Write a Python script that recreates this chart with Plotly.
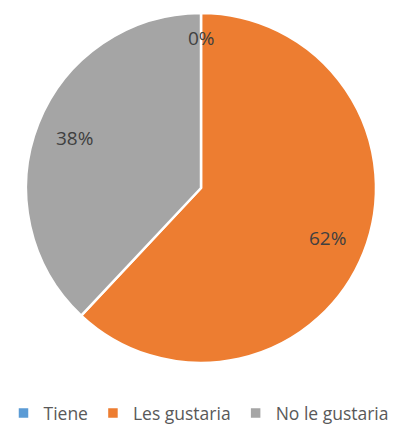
import math
import plotly.graph_objects as go

labels = ["Tiene", "Les gustaria", "No le gustaria"]
values = [0, 62, 38]
colors = ["#5B9BD5", "#ED7D31", "#A5A5A5"]

W, H = 398, 428
cx, cy, r = 201, 188, 175

fig = go.Figure(go.Pie(
    labels=labels, values=values, sort=False, direction="clockwise", rotation=0,
    marker=dict(colors=colors, line=dict(color="white", width=2.5)),
    textinfo="none", hoverinfo="label+percent",
    domain=dict(x=[(cx - r) / W, (cx + r) / W], y=[1 - (cy + r) / H, 1 - (cy - r) / H]),
    showlegend=True,
))

# data labels placed along each slice's mid-angle
total = sum(values)
cum = 0
for lab, v in zip(labels, values):
    frac = v / total
    mid = (cum + frac / 2) * 2 * math.pi
    cum += frac
    k = 0.86 if frac < 0.01 else 0.78
    px = cx + k * r * math.sin(mid)
    py = cy - k * r * math.cos(mid)
    fig.add_annotation(x=px / W, y=1 - py / H, xref="paper", yref="paper",
                       text=f"{round(frac * 100)}%", showarrow=False,
                       font=dict(family="Open Sans", size=19, color="#404040"),
                       xanchor="center", yanchor="middle")

fig.update_layout(
    width=W, height=H, margin=dict(l=0, r=0, t=0, b=0, autoexpand=False),
    paper_bgcolor="white", plot_bgcolor="white",
    legend=dict(orientation="h", x=0.5, xanchor="center", y=(H - 413) / H, yanchor="middle",
                font=dict(family="Open Sans", size=17.5, color="#595959"),
                itemwidth=30, tracegroupgap=0),
)
fig.write_html("out.html", config={"displayModeBar": False},
               post_script="document.body.style.margin='0';")
